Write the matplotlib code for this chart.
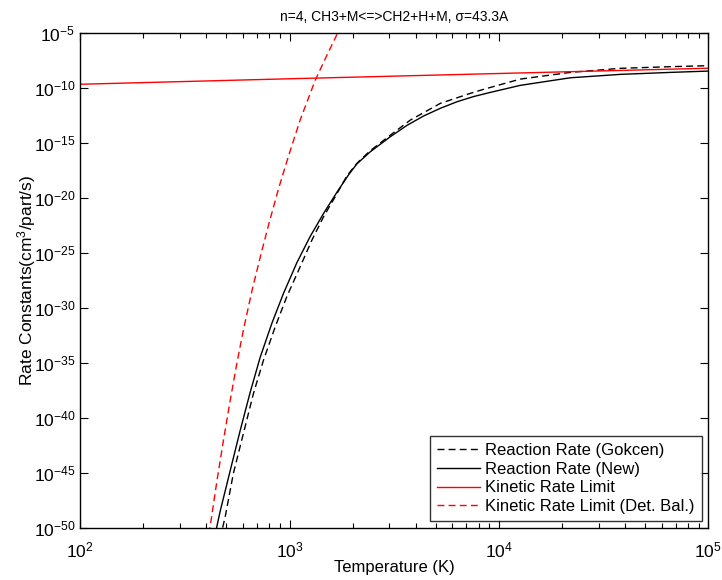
import matplotlib
matplotlib.use("Agg")
import matplotlib.pyplot as plt
from matplotlib.ticker import LogLocator, NullFormatter, NullLocator

# values (log10 of temperature and of rate constant)
logT_gokcen = [2.670, 2.682, 2.693, 2.732, 2.780, 2.828, 2.876, 2.932, 2.987,
               3.051, 3.107, 3.163, 3.218, 3.274, 3.322, 3.386, 3.481, 3.577,
               3.720, 3.863, 3.927, 4.102, 4.341, 4.580, 4.819, 5.0]
logk_gokcen = [-51.0, -49.9, -49.0, -45.06, -41.42, -37.78, -34.75, -31.72,
               -28.99, -26.26, -23.84, -21.7, -19.9, -18.0, -16.85, -15.7,
               -14.3, -12.92, -11.40, -10.49, -10.12, -9.19, -8.58, -8.21,
               -8.06, -7.97]

logT_new = [2.640, 2.653, 2.669, 2.717, 2.764, 2.812, 2.860, 2.916, 2.971,
            3.035, 3.099, 3.163, 3.226, 3.282, 3.322, 3.386, 3.481, 3.561,
            3.640, 3.720, 3.800, 3.879, 3.959, 4.102, 4.341, 4.580, 4.819,
            5.0]
logk_new = [-51.0, -49.9, -48.5, -44.8, -41.2, -37.7, -34.5, -31.4, -28.7,
            -25.9, -23.5, -21.4, -19.5, -17.9, -16.9, -15.8, -14.44, -13.4,
            -12.55, -11.85, -11.25, -10.78, -10.40, -9.76, -9.07, -8.76,
            -8.58, -8.46]

logT_kin = [2.0, 3.0, 4.0, 5.0]
logk_kin = [-9.66, -9.16, -8.68, -8.20]

logT_det = [2.600, 2.621, 2.653, 2.685, 2.717, 2.749, 2.780, 2.820, 2.860,
            2.900, 2.947, 2.995, 3.051, 3.123, 3.179, 3.229, 3.260]
logk_det = [-52.6, -49.9, -45.8, -42.0, -38.4, -35.0, -32.0, -28.5, -25.4,
            -22.45, -19.2, -16.2, -12.9, -9.28, -7.0, -5.03, -3.9]


def to_lin(vals):
    return [10.0 ** v for v in vals]


plt.rcParams['font.family'] = ['Liberation Sans', 'DejaVu Sans']
plt.rcParams['mathtext.default'] = 'regular'

fig = plt.figure(figsize=(7.22, 5.8), dpi=100)
ax = fig.add_axes([0.111, 0.0905, 0.870, 0.8525])

ax.loglog(to_lin(logT_gokcen), to_lin(logk_gokcen), color='black', lw=1.0,
          dashes=(5, 3), label='Reaction Rate (Gokcen)')
ax.loglog(to_lin(logT_new), to_lin(logk_new), color='black', lw=1.0,
          label='Reaction Rate (New)')
ax.loglog(to_lin(logT_kin), to_lin(logk_kin), color='red', lw=1.0,
          label='Kinetic Rate Limit')
ax.loglog(to_lin(logT_det), to_lin(logk_det), color='red', lw=1.0,
          dashes=(5, 3), label='Kinetic Rate Limit (Det. Bal.)')

ax.set_xlim(1e2, 1e5)
ax.set_ylim(1e-50, 1e-5)
ax.set_yticks([10.0 ** e for e in range(-50, -4, 5)])
ax.yaxis.set_minor_locator(NullLocator())
ax.xaxis.set_minor_locator(LogLocator(base=10, subs=range(2, 10)))
ax.xaxis.set_minor_formatter(NullFormatter())

ax.tick_params(which='both', direction='in', top=True, right=True,
               labelsize=12.5, width=0.8)
ax.tick_params(which='major', length=6)
ax.tick_params(which='minor', length=3.5)
ax.tick_params(axis='x', which='major', pad=9)
for sp in ax.spines.values():
    sp.set_linewidth(1.0)

ax.set_xlabel('Temperature (K)', fontsize=12, labelpad=0)
ax.set_ylabel('Rate Constants(cm$^3$/part/s)', fontsize=12.5, labelpad=-3)
ax.set_title('n=4, CH3+M<=>CH2+H+M, σ=43.3A', fontsize=10, pad=9)

leg = ax.legend(loc='lower right', fontsize=12, frameon=True, fancybox=False,
                edgecolor='black', borderaxespad=0.4, handlelength=2.6,
                labelspacing=0.23, borderpad=0.4, handletextpad=0.3)
leg.get_frame().set_linewidth(1.0)

fig.savefig('out.png', dpi=100)
